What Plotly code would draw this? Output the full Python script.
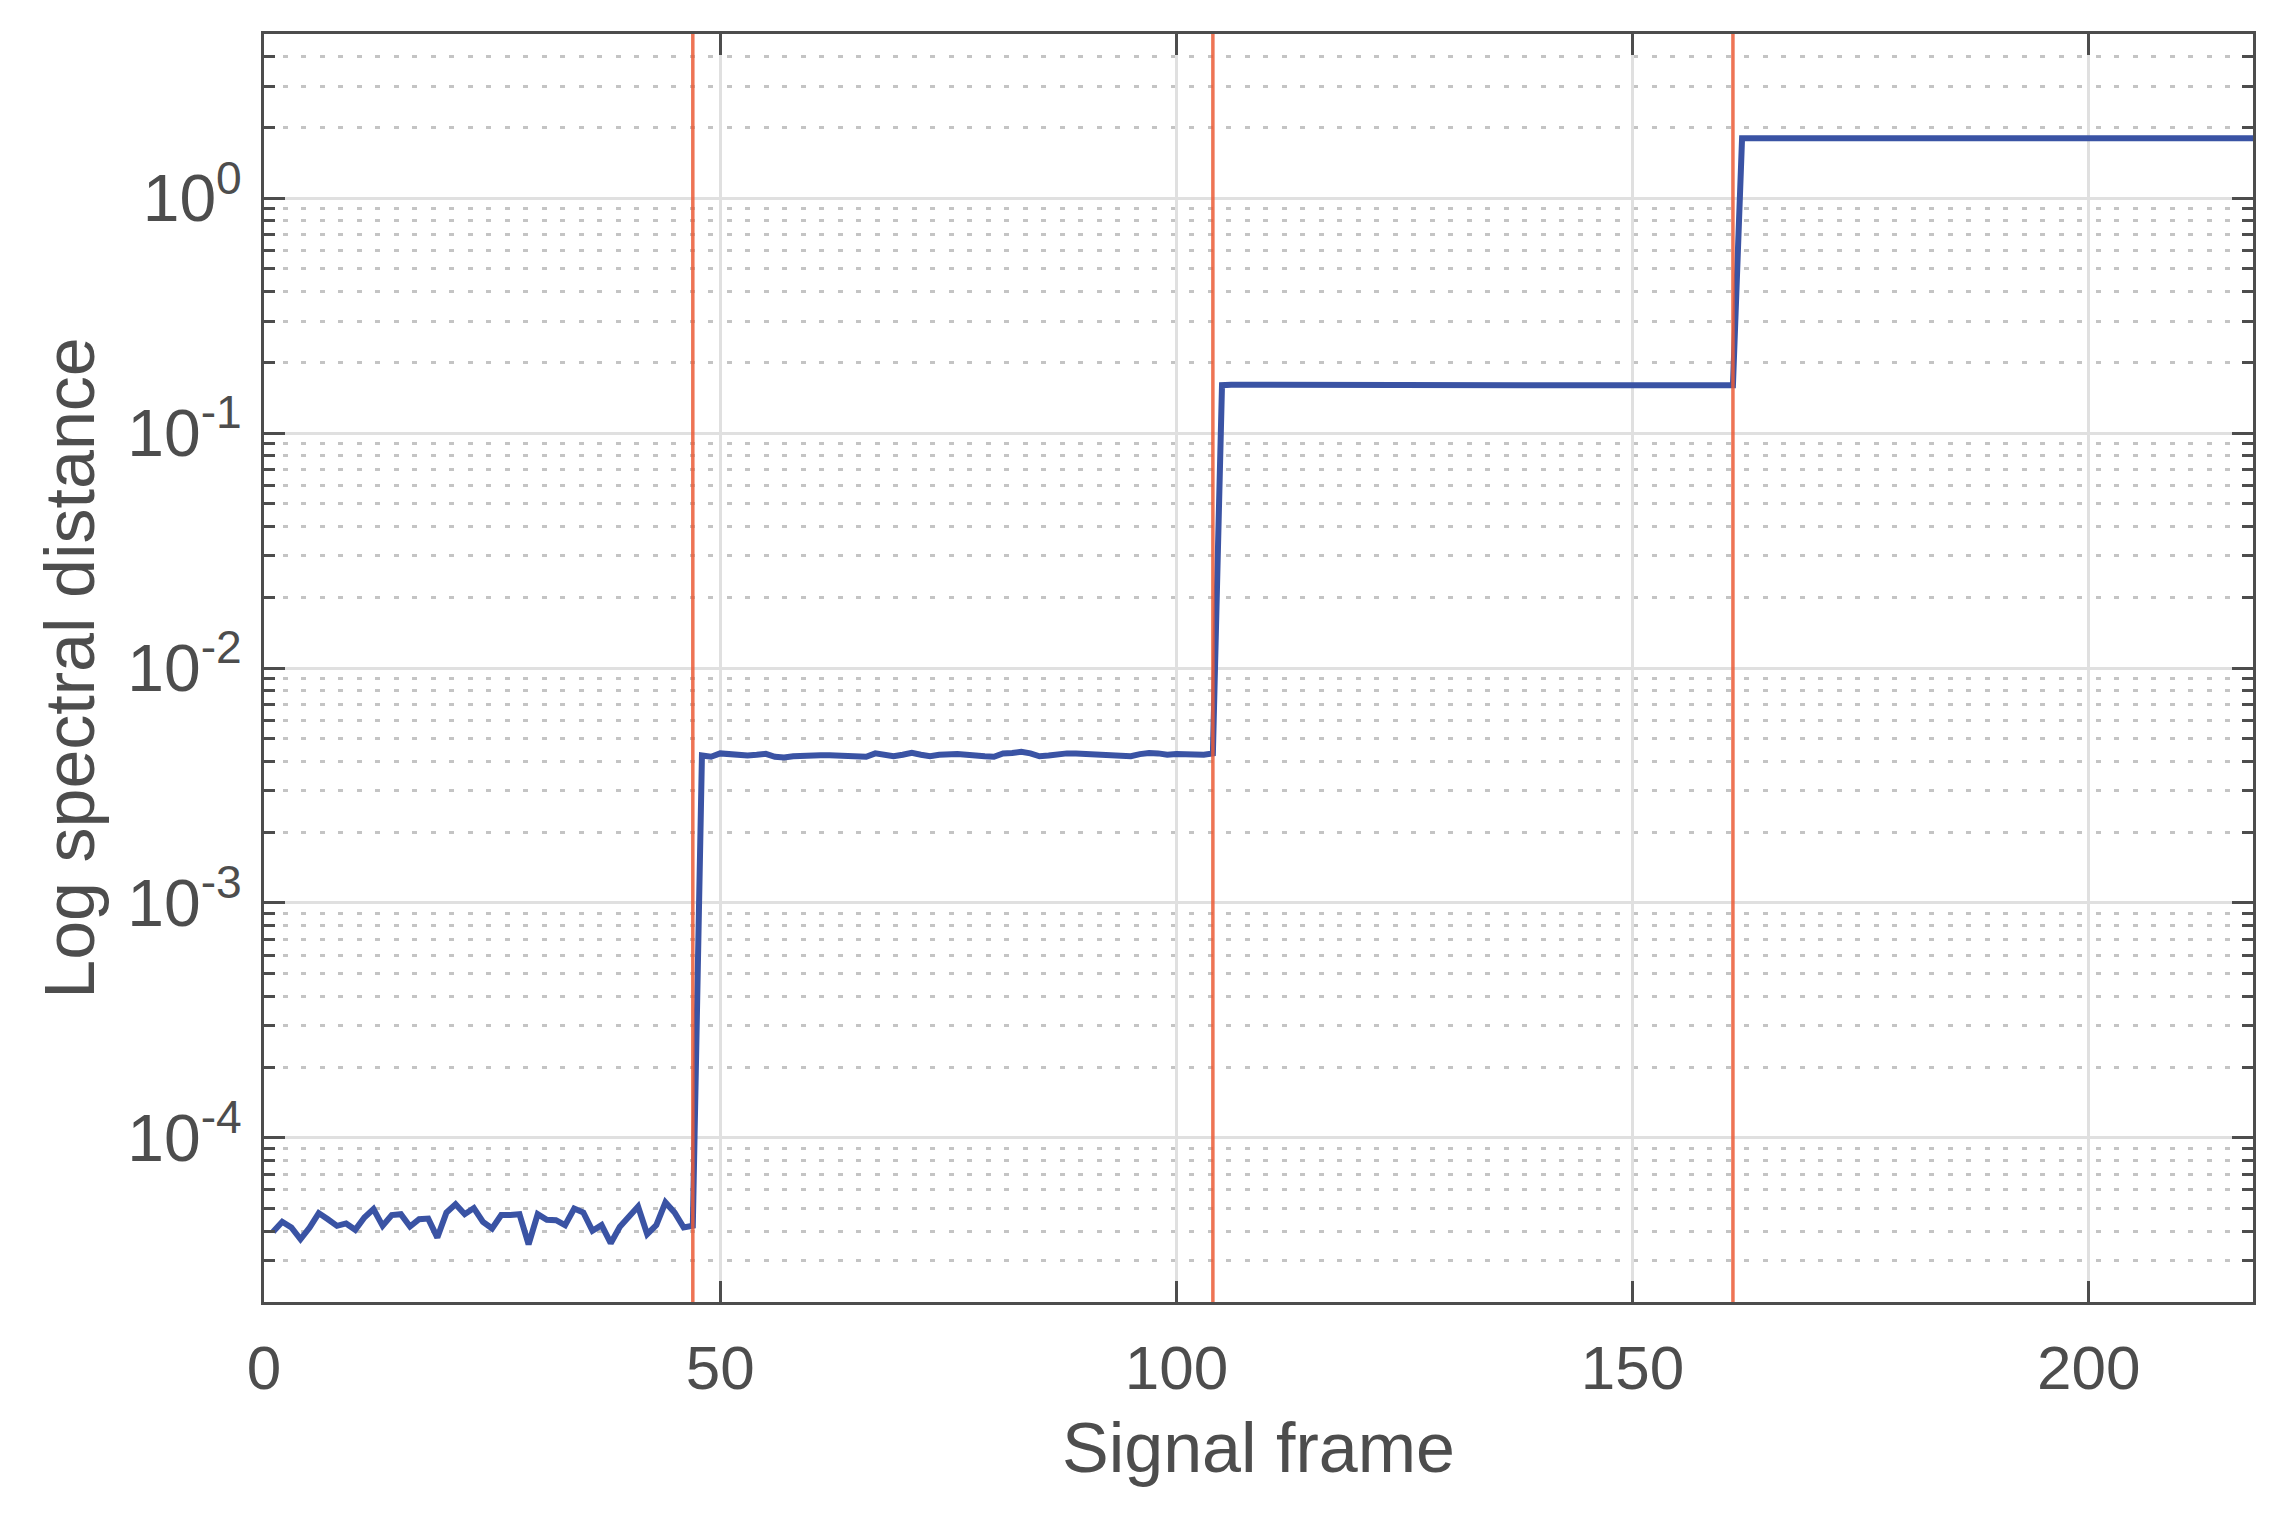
import math
import plotly.graph_objects as go

# ---- data ----
frames = list(range(1, 219))

seg1 = [3.98e-5, 4.39e-5, 4.15e-5, 3.70e-5, 4.15e-5, 4.78e-5, 4.50e-5, 4.22e-5, 4.32e-5, 4.06e-5,
        4.58e-5, 4.97e-5, 4.22e-5, 4.69e-5, 4.73e-5, 4.19e-5, 4.50e-5, 4.53e-5, 3.76e-5, 4.81e-5,
        5.22e-5, 4.73e-5, 5.02e-5, 4.39e-5, 4.11e-5, 4.69e-5, 4.69e-5, 4.73e-5, 3.52e-5, 4.73e-5,
        4.48e-5, 4.46e-5, 4.25e-5, 5.00e-5, 4.81e-5, 4.02e-5, 4.25e-5, 3.56e-5, 4.18e-5, 4.62e-5,
        5.10e-5, 3.89e-5, 4.25e-5, 5.31e-5, 4.81e-5, 4.15e-5, 4.22e-5]

seg2 = [4.24e-3, 4.19e-3, 4.33e-3, 4.29e-3, 4.24e-3, 4.24e-3, 4.27e-3, 4.31e-3, 4.19e-3, 4.16e-3,
        4.21e-3, 4.24e-3, 4.24e-3, 4.25e-3, 4.25e-3, 4.24e-3, 4.24e-3, 4.21e-3, 4.19e-3, 4.33e-3,
        4.30e-3, 4.21e-3, 4.27e-3, 4.35e-3, 4.27e-3, 4.21e-3, 4.27e-3, 4.30e-3, 4.30e-3, 4.27e-3,
        4.27e-3, 4.21e-3, 4.19e-3, 4.33e-3, 4.35e-3, 4.40e-3, 4.33e-3, 4.21e-3, 4.24e-3, 4.30e-3,
        4.33e-3, 4.33e-3, 4.30e-3, 4.27e-3, 4.27e-3, 4.27e-3, 4.21e-3, 4.21e-3, 4.30e-3, 4.35e-3,
        4.33e-3, 4.27e-3, 4.30e-3, 4.30e-3, 4.24e-3, 4.27e-3, 4.33e-3]

seg3 = [0.1600, 0.1605, 0.1605, 0.1600, 0.1595, 0.1600, 0.1600, 0.1598, 0.1597, 0.1597,
        0.1600, 0.1605, 0.1600, 0.1598, 0.1596, 0.1590, 0.1590, 0.1595, 0.1597, 0.1597,
        0.1597, 0.1595, 0.1597, 0.1600, 0.1603, 0.1603, 0.1598, 0.1592, 0.1592, 0.1597,
        0.1597, 0.1597, 0.1597, 0.1597, 0.1597, 0.1592, 0.1590, 0.1590, 0.1592, 0.1597,
        0.1597, 0.1600, 0.1603, 0.1600, 0.1597, 0.1590, 0.1595, 0.1600, 0.1602, 0.1602,
        0.1598, 0.1600, 0.1602, 0.1600, 0.1600, 0.1600, 0.1597]

seg4 = [1.80] * 57

distance = seg1 + seg2 + seg3 + seg4
change_points = [47, 104, 161]

y_major = [1e-4, 1e-3, 1e-2, 1e-1, 1e0]
y_major_exp = ["-4", "-3", "-2", "-1", "0"]
y_minor = ([m * 1e-5 for m in range(2, 10)] + [m * 1e-4 for m in range(2, 10)] +
           [m * 1e-3 for m in range(2, 10)] + [m * 1e-2 for m in range(2, 10)] +
           [m * 1e-1 for m in range(2, 10)] + [m * 1.0 for m in range(2, 6)])
x_ticks = [0, 50, 100, 150, 200]
x_range = [0, 218]
y_range = [2e-5, 5.0]

# ---- styles ----
TXT = "#4d4d4d"
FONT = "Liberation Sans, Arial, Helvetica, sans-serif"
BLUE = "#3a53a4"
RED = "rgb(236,92,55)"

y_major_text = ["10<sup>%s</sup>" % e for e in y_major_exp]

fig = go.Figure()
fig.add_trace(go.Scatter(x=frames, y=distance, mode="lines",
                         line=dict(color=BLUE, width=6), showlegend=False))

for cp in change_points:
    fig.add_vline(x=cp, line=dict(color=RED, width=3.5), opacity=0.85, layer="above")

fig.update_layout(
    width=2277, height=1514,
    margin=dict(l=256, r=32, t=26, b=220, autoexpand=False),
    paper_bgcolor="white", plot_bgcolor="white",
    font=dict(family=FONT, color=TXT, size=62),
    showlegend=False,
)

fig.update_xaxes(
    range=x_range, tickmode="array", tickvals=x_ticks,
    ticks="inside", ticklen=21, tickwidth=3, tickcolor=TXT,
    showline=True, linecolor=TXT, linewidth=3, mirror="allticks",
    showgrid=True, gridcolor="#e0e0e0", gridwidth=2.5,
    zeroline=False, tickfont=dict(size=62, color=TXT, family=FONT),
    ticklabelstandoff=10,
    title=dict(text="Signal frame", font=dict(size=70, color=TXT, family=FONT), standoff=22),
    automargin=False,
)

fig.update_yaxes(
    type="log", range=[math.log10(y_range[0]), math.log10(y_range[1])],
    tickmode="array", tickvals=y_major, ticktext=y_major_text,
    ticks="inside", ticklen=21, tickwidth=3, tickcolor=TXT,
    showline=True, linecolor=TXT, linewidth=3, mirror="allticks",
    showgrid=True, gridcolor="#e0e0e0", gridwidth=2.5,
    zeroline=False, tickfont=dict(size=66, color=TXT, family=FONT),
    ticklabelstandoff=6,
    minor=dict(tickmode="array", tickvals=y_minor, ticks="inside", ticklen=11,
               tickwidth=3, tickcolor=TXT, showgrid=True, gridcolor="#c4c4c4",
               gridwidth=3, griddash="5px,13.5px"),
    title=dict(text="Log spectral distance", font=dict(size=70, color=TXT, family=FONT), standoff=10),
    automargin=False,
)

fig.write_html("out.html")
